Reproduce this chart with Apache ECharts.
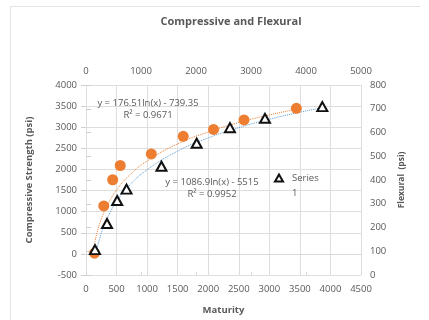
<!DOCTYPE html>
<html>
<head>
<meta charset="utf-8">
<script src="https://cdn.jsdelivr.net/npm/echarts@6/dist/echarts.min.js"></script>
<style>
html,body{margin:0;padding:0;background:#fff;}
#chart{width:429px;height:320px;}
</style>
</head>
<body>
<div id="chart"></div>
<script>
// Compressive strength (Series 1, triangles) — maturity vs psi
var compMaturity = [147, 344, 510, 663, 1235, 1811, 2356, 2929, 3867];
var compValues   = [100, 720, 1264, 1533, 2076, 2621, 2989, 3211, 3487];
// Flexural strength (orange circles) — maturity vs psi
var flexMaturity = [139, 291, 437, 560, 1069, 1591, 2087, 2586, 3442];
var flexValues   = [92, 291, 401, 461, 510, 584, 613, 653, 702];
// Dotted trendlines
var compTrendX = [147, 200, 300, 400, 500, 700, 1000, 1500, 2000, 2500, 3000, 3500, 3867];
var compTrendY = [-80, 244, 685, 997, 1240, 1606, 1993, 2434, 2747, 2989, 3187, 3355, 3463];
var flexTrendX = [139, 200, 300, 400, 500, 700, 1000, 1500, 2000, 2500, 3000, 3442];
var flexTrendY = [132, 196, 267, 318, 358, 417, 480, 552, 602, 642, 674, 698];
// Texts
var titleText = 'Compressive and Flexural';
var flexEq = ['y = 176.51ln(x) - 739.35', 'R\u00B2 = 0.9671'];
var compEq = ['y = 1086.9ln(x) - 5515', 'R\u00B2 = 0.9952'];
var legendName = 'Series 1';

function pairs(xs, ys){ return xs.map(function(x,i){ return [x, ys[i]]; }); }
function plain(v){ return String(v); }

var FONT = '"Open Sans", sans-serif';
var TXT = '#595959';
var GRID = '#dedede';

var chart = echarts.init(document.getElementById('chart'));
chart.setOption({
  animation: false,
  backgroundColor: '#fff',
  textStyle: {fontFamily: FONT},
  title: {
    text: titleText, left: 226, top: 11, textAlign: 'center',
    textStyle: {fontFamily: FONT, fontSize: 11, fontWeight: 'bold', color: TXT}
  },
  grid: {left: 86, right: 68, top: 85, bottom: 39},
  legend: {
    data: [legendName], left: 274, top: 173, padding: 0,
    itemWidth: 8, itemHeight: 7,
    formatter: function(n){ return n.split(' ')[0]; },
    textStyle: {fontFamily: FONT, fontSize: 9.5, color: TXT, padding: [0,0,0,4]}
  },
  xAxis: [
    {
      type: 'value', position: 'bottom', min: 0, max: 4500, interval: 500,
      axisLine: {show: true, onZero: true, onZeroAxisIndex: 0, lineStyle: {color: '#d9d9d9'}},
      axisTick: {show: false},
      axisLabel: {color: TXT, fontSize: 9.5, margin: 9, fontFamily: FONT, formatter: plain},
      splitLine: {show: true, lineStyle: {color: GRID, width: 1}},
      name: 'Maturity', nameLocation: 'middle', nameGap: 30,
      nameTextStyle: {color: TXT, fontSize: 9.5, fontWeight: 'bold', fontFamily: FONT}
    },
    {
      type: 'value', position: 'top', min: 0, max: 5000, interval: 1000,
      axisLine: {show: false},
      axisTick: {show: true, length: 3, lineStyle: {color: '#d9d9d9'}},
      axisLabel: {color: TXT, fontSize: 9.5, margin: 9, fontFamily: FONT, formatter: plain},
      splitLine: {show: false}
    }
  ],
  yAxis: [
    {
      type: 'value', position: 'left', min: -500, max: 4000, interval: 500,
      axisLine: {show: false},
      axisTick: {show: true, length: 5, lineStyle: {color: '#cfcfcf'}},
      axisLabel: {color: TXT, fontSize: 9.5, margin: 9, fontFamily: FONT, formatter: plain},
      splitLine: {show: true, lineStyle: {color: GRID, width: 1}},
      name: 'Compressive Strength (psi)', nameLocation: 'middle', nameGap: 52, nameRotate: 90,
      nameTextStyle: {color: TXT, fontSize: 9.5, fontWeight: 'bold', fontFamily: FONT}
    },
    {
      type: 'value', position: 'right', min: 0, max: 800, interval: 100,
      axisLine: {show: false},
      axisTick: {show: true, length: 5, lineStyle: {color: '#cfcfcf'}},
      axisLabel: {color: TXT, fontSize: 9.5, margin: 9, fontFamily: FONT, formatter: plain},
      splitLine: {show: false},
      name: 'Flexural  (psi)', nameLocation: 'middle', nameGap: 31, nameRotate: 90,
      nameTextStyle: {color: TXT, fontSize: 8.5, fontWeight: 'bold', fontFamily: FONT}
    }
  ],
  graphic: [
    {type: 'line', shape: {x1: 10.5, y1: 6.5, x2: 420, y2: 6.5}, style: {stroke: '#e3e3e3', lineWidth: 1}, silent: true},
    {type: 'line', shape: {x1: 10.5, y1: 6.5, x2: 10.5, y2: 320}, style: {stroke: '#e3e3e3', lineWidth: 1}, silent: true},
    {type: 'text', x: 148, y: 103, style: {text: flexEq[0], fill: TXT, font: '9.5px ' + FONT, textAlign: 'center', textVerticalAlign: 'middle'}, z: 10},
    {type: 'text', x: 148, y: 115.5, style: {text: flexEq[1], fill: TXT, font: '9.5px ' + FONT, textAlign: 'center', textVerticalAlign: 'middle'}, z: 10},
    {type: 'text', x: 212, y: 182, style: {text: compEq[0], fill: TXT, font: '9.5px ' + FONT, textAlign: 'center', textVerticalAlign: 'middle'}, z: 10},
    {type: 'text', x: 212, y: 194.5, style: {text: compEq[1], fill: TXT, font: '9.5px ' + FONT, textAlign: 'center', textVerticalAlign: 'middle'}, z: 10},
    {type: 'text', x: 292, y: 193, style: {text: legendName.split(' ')[1], fill: TXT, font: '9.5px ' + FONT, textAlign: 'left', textVerticalAlign: 'middle'}, z: 10}
  ],
  series: [
    {
      name: 'flexTrend', type: 'line', xAxisIndex: 0, yAxisIndex: 1,
      data: pairs(flexTrendX, flexTrendY), smooth: true, symbol: 'none',
      lineStyle: {color: '#ED7D31', width: 1, type: 'dotted'}, z: 2, silent: true
    },
    {
      name: 'compTrend', type: 'line', xAxisIndex: 0, yAxisIndex: 0,
      data: pairs(compTrendX, compTrendY), smooth: true, symbol: 'none',
      lineStyle: {color: '#5B9BD5', width: 1, type: 'dotted'}, z: 2, silent: true
    },
    {
      name: 'Flexural', type: 'scatter', xAxisIndex: 0, yAxisIndex: 1,
      data: pairs(flexMaturity, flexValues), symbol: 'circle', symbolSize: 11,
      itemStyle: {color: '#ED7D31', opacity: 1}, z: 3
    },
    {
      name: legendName, type: 'scatter', xAxisIndex: 0, yAxisIndex: 0,
      data: pairs(compMaturity, compValues), symbol: 'triangle', symbolSize: [10, 9],
      itemStyle: {color: '#ffffff', borderColor: '#111111', borderWidth: 2, opacity: 1}, z: 4
    }
  ]
});
</script>
</body>
</html>
